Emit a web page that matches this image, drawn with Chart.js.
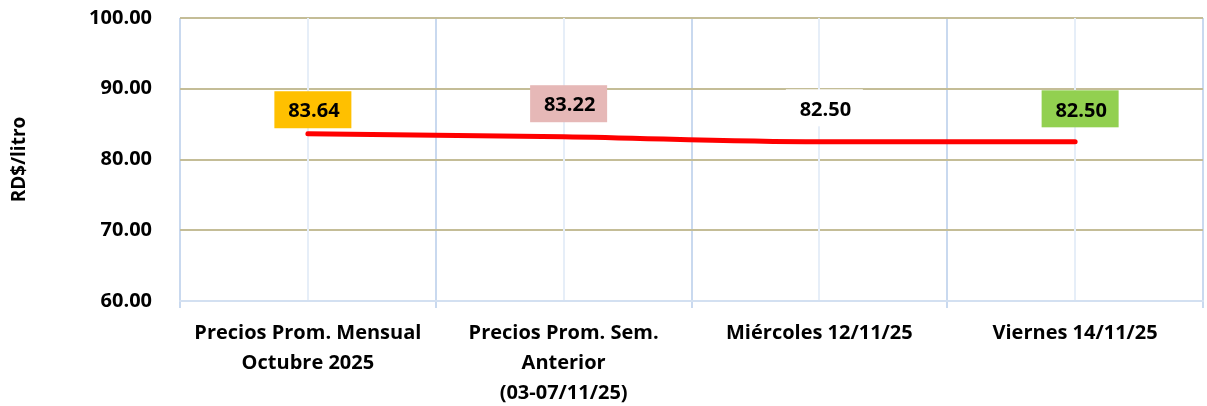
<!DOCTYPE html>
<html>
<head>
<meta charset="utf-8">
<script src="https://cdn.jsdelivr.net/npm/chart.js@4.4.0/dist/chart.umd.min.js"></script>
<style>
    html, body { margin: 0; padding: 0; background: #fff; }
    #wrap { width: 1207px; height: 406px; }
</style>
</head>
<body>
<div id="wrap"><canvas id="price-chart"></canvas></div>
<script>
const categories = [
    ['Precios Prom. Mensual', 'Octubre 2025'],
    ['Precios Prom. Sem.', 'Anterior', '(03-07/11/25)'],
    'Miércoles 12/11/25',
    'Viernes 14/11/25'
];
const prices = [83.64, 83.22, 82.50, 82.50];
const labelColors = ['#ffc000', '#e6b8b7', '#ffffff', '#92d050'];
// vertical lift of each value box above its point (px), as placed in the original
const labelLift = [24, 33, 34, 33];

const yMin = 60, yMax = 100, yStep = 10;

Chart.defaults.font.family = '"Open Sans"';
Chart.defaults.font.weight = 'bold';
Chart.defaults.color = '#000';

/**
 * Light lines through the centre of each category
 */
const centerLines = {
    id: 'centerLines',
    beforeDatasetsDraw(chart) {
        const { ctx, chartArea, scales: { x } } = chart;
        ctx.save();
        ctx.strokeStyle = '#e6eef8';
        ctx.lineWidth = 2;
        categories.forEach((c, i) => {
            const px = Math.round(x.getPixelForValue(i));
            ctx.beginPath();
            ctx.moveTo(px, chartArea.top);
            ctx.lineTo(px, chartArea.bottom - 1);
            ctx.stroke();
        });
        ctx.restore();
    }
};

/**
 * Value boxes above the points
 */
const valueBoxes = {
    id: 'valueBoxes',
    afterDatasetsDraw(chart) {
        const { ctx } = chart;
        const meta = chart.getDatasetMeta(0);
        ctx.save();
        ctx.font = 'bold 20px "Open Sans"';
        ctx.textAlign = 'center';
        ctx.textBaseline = 'middle';
        meta.data.forEach((pt, i) => {
            const cx = pt.x + 5;
            const cy = pt.y - labelLift[i];
            const w = 77, h = 37;
            ctx.fillStyle = labelColors[i];
            ctx.fillRect(cx - w / 2, cy - h / 2, w, h);
            ctx.fillStyle = '#000';
            ctx.fillText(prices[i].toFixed(2), cx + 1, cy + 2);
        });
        ctx.restore();
    }
};

new Chart(document.getElementById('price-chart'), {
    type: 'line',
    data: {
        labels: categories,
        datasets: [{
            data: prices,
            borderColor: '#ff0000',
            borderWidth: 5,
            borderCapStyle: 'round',
            cubicInterpolationMode: 'monotone',
            pointRadius: 0,
            fill: false
        }]
    },
    options: {
        animation: false,
        responsive: true,
        maintainAspectRatio: false,
        layout: { padding: { top: 18, right: 4, left: 0, bottom: 0 } },
        plugins: {
            legend: { display: false },
            tooltip: { enabled: false }
        },
        scales: {
            x: {
                offset: true,
                grid: {
                    offset: true,
                    color: '#c9d9ef',
                    lineWidth: 2,
                    drawTicks: true,
                    tickLength: 7,
                    tickColor: '#c9d9ef'
                },
                border: { display: true, color: '#d3e0f1', width: 2 },
                ticks: {
                    padding: 10,
                    maxRotation: 0,
                    autoSkip: false,
                    font: { size: 20, weight: 'bold', lineHeight: 1.5 }
                },
                afterFit: s => { s.height = 105; }
            },
            y: {
                min: yMin,
                max: yMax,
                grid: {
                    color: ctx => ctx.tick && ctx.tick.value === yMin ? 'rgba(0,0,0,0)' : '#c4bd97',
                    lineWidth: 2,
                    drawTicks: true,
                    tickLength: 28,
                    tickColor: 'rgba(0,0,0,0)'
                },
                border: { display: false },
                ticks: {
                    stepSize: yStep,
                    padding: 0,
                    font: { size: 20, weight: 'bold' },
                    callback: v => v.toFixed(2)
                },
                title: {
                    display: true,
                    text: 'RD$/litro',
                    font: { size: 19, weight: 'bold' },
                    padding: { top: 8, bottom: 4 }
                },
                afterFit: s => { s.width = 180; }
            }
        }
    },
    plugins: [centerLines, valueBoxes]
});
</script>
</body>
</html>
